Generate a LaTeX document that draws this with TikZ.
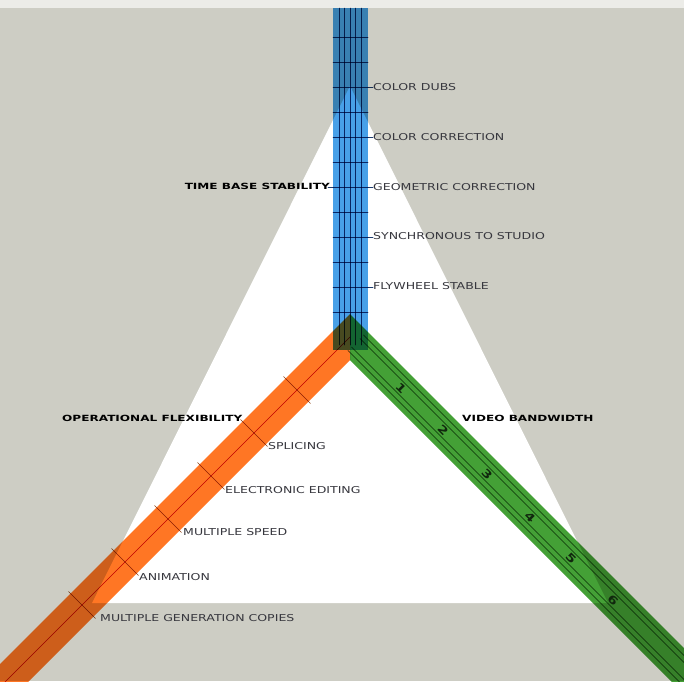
\documentclass[tikz,border=0pt]{standalone}
\usepackage{fontspec}
\newfontfamily\lblfont[FakeStretch=1.32]{DejaVu Sans}
\newfontfamily\hdfont[FakeStretch=1.42]{DejaVu Sans}
\definecolor{bggray}{RGB}{205,205,196}
\definecolor{topstrip}{RGB}{236,236,232}
\definecolor{tbsblue}{RGB}{72,160,232}
\definecolor{ofsorange}{RGB}{255,118,36}
\definecolor{vbwgreen}{RGB}{68,160,54}
\definecolor{gridnavy}{RGB}{30,60,110}
\definecolor{labgray}{RGB}{55,55,62}
\tikzset{
    lab/.style={
        anchor=west, inner sep=0pt, text=labgray,
        font=\lblfont\fontsize{9.5}{11}\selectfont
    }
}

\begin{document}
\begin{tikzpicture}[x=1pt,y=1pt, line cap=round, line join=round]

\tikzset{
  hd/.style={inner sep=0pt, text=black, font=\hdfont\bfseries\fontsize{8.5}{10}\selectfont},
  gridline/.style={draw=gridnavy, line width=0.5pt},
  otick/.style={draw=ofsorange!55!black, line width=0.6pt},
  gline/.style={draw=vbwgreen!45!black, line width=0.55pt},
  gdig/.style={inner sep=0pt, text=vbwgreen!25!black, rotate=-45, font=\lblfont\bfseries\fontsize{11}{12}\selectfont},
}

\useasboundingbox (0,0) rectangle (684,-681);
\clip (0,0) rectangle (684,-681);
\fill[bggray] (0,0) rectangle (684,-681);
\fill[topstrip] (0,0) rectangle (684,-8);

\coordinate (apex) at (350,-86);
\coordinate (baseL) at (92,-603);
\coordinate (baseR) at (608,-603);
\coordinate (C) at (350,-337);
\coordinate (mitT) at (350,-314);
\coordinate (mitB) at (350,-360);

% white triangle
\fill[white] (apex) -- (baseL) -- (baseR) -- cycle;

\begin{scope}[blend mode=multiply]
% three bars
\fill[tbsblue] (333,-8) rectangle (368,-350);
\fill[ofsorange] (mitB) -- ++(-420,-420) -- ++(0,46) -- (mitT) -- cycle;
\fill[vbwgreen] (mitB) -- ++(420,-420) -- ++(0,46) -- (mitT) -- cycle;

% blue grid
\foreach \y in {37,62,...,312}
  \draw[gridline] (333,-\y) -- (368,-\y);
\foreach \x in {339,344.5,350,355.5,361}
  \draw[gridline] (\x,-8) -- (\x,-345);
\foreach \y in {87,137,...,287}
  \draw[gridline] (368,-\y) -- (373,-\y);
\draw[gridline] (328,-187) -- (333,-187);

% orange axis and ticks
\draw[draw=red!75!black, line width=0.5pt] (C) -- ++(-400,-400);
\foreach \d in {53,96,...,268}
  \draw[otick] ({336.5-\d},{-323.5-\d}) -- ++(27,-27);

% green rules
\foreach \o in {-11,-6,6,11}
  \draw[gline] ({355.7+\o*0.7071},{-342.7+\o*0.7071}) -- ++(400,-400);
\end{scope}

% scale digits
\foreach \d/\n in {51/1,93/2,137/3,180/4,221/5,263/6}
  \node[gdig] (v\n) at ({350+\d},{-337-\d}) {\n};

% time base stability
\node[hd, anchor=east] (tbs) at (330,-186) {TIME BASE STABILITY};
\node[lab] (dubs) at (373,-87) {COLOR DUBS};
\node[lab] (ccor) at (373,-137) {COLOR CORRECTION};
\node[lab] (gcor) at (373,-187) {GEOMETRIC CORRECTION};
\node[lab] (sync) at (373,-236) {SYNCHRONOUS TO STUDIO};
\node[lab] (fly) at (373,-286) {FLYWHEEL STABLE};

% operational flexibility
\node[hd, anchor=west] (ofs) at (62,-418) {OPERATIONAL FLEXIBILITY};
\node[lab] (spl) at (268,-446) {SPLICING};
\node[lab] (edit) at (225,-490) {ELECTRONIC EDITING};
\node[lab] (speed) at (183,-532) {MULTIPLE SPEED};
\node[lab] (anim) at (139,-577) {ANIMATION};
\node[lab] (copies) at (100,-618) {MULTIPLE GENERATION COPIES};

% video bandwidth
\node[hd, anchor=west] (vbw) at (462,-418) {VIDEO BANDWIDTH};

\end{tikzpicture}
\end{document}
